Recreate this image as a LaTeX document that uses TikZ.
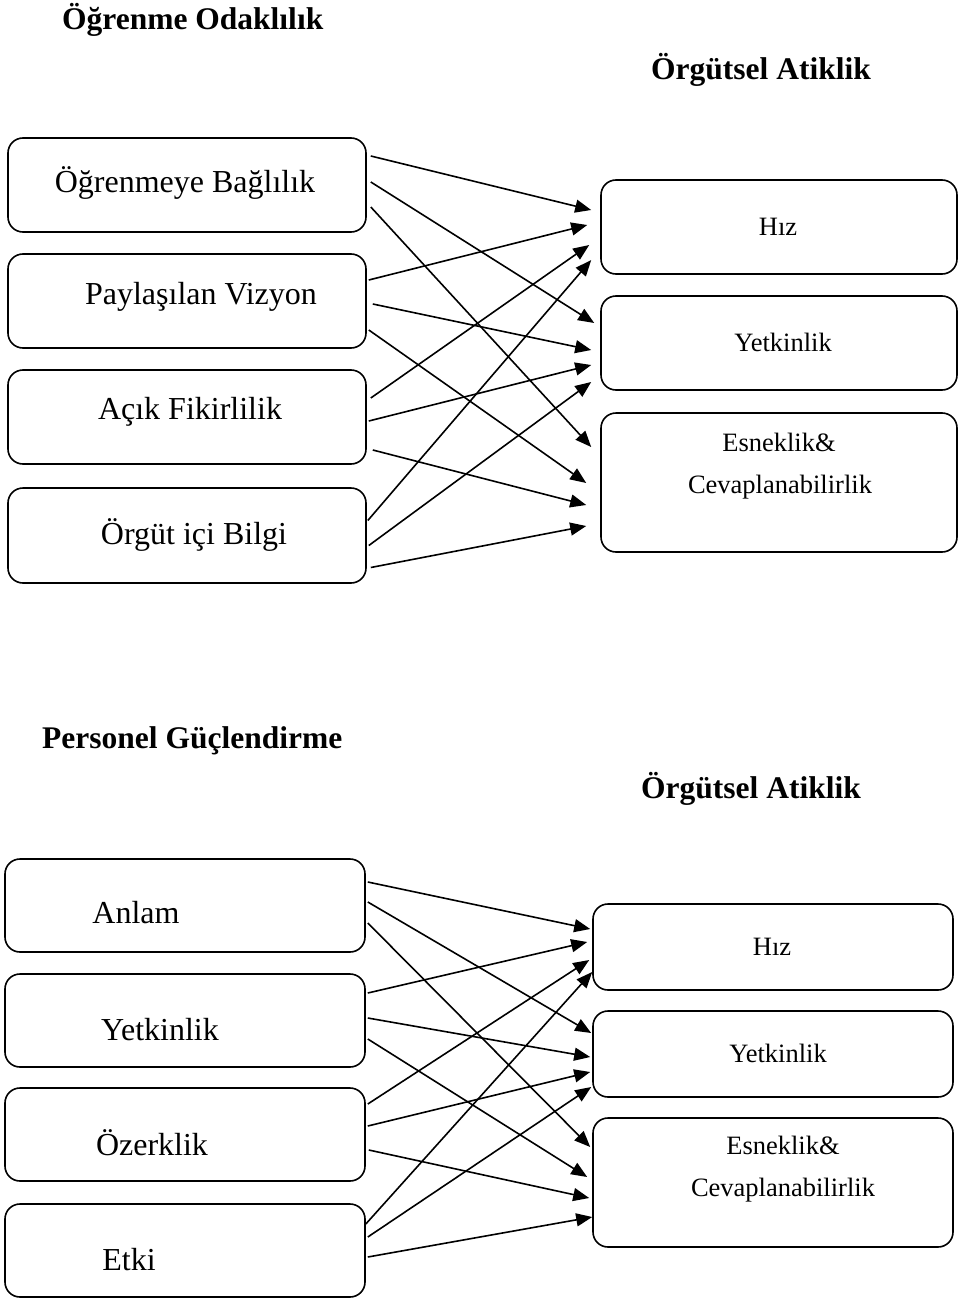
\documentclass[tikz,border=0pt]{standalone}
\usepackage{fontspec}
\setmainfont{Liberation Serif}
\usetikzlibrary{arrows.meta,calc}
\begin{document}
\begin{tikzpicture}[x=1pt,y=-1pt,
 box/.style={draw, line width=1.6pt, rounded corners=15pt, inner sep=0pt, minimum width=358pt, minimum height=94pt},
 rbox/.style={box, minimum width=356pt},
 bbox/.style={box, minimum width=360pt, minimum height=93pt},
 cbox/.style={box, minimum width=360pt, minimum height=86pt},
 arr/.style={line width=1.6pt, -{Triangle[length=16pt,width=13pt]}},
 txt/.style={font=\fontsize{32}{38}\selectfont, inner sep=0pt},
 rtxt/.style={font=\fontsize{26.5}{32}\selectfont, inner sep=0pt},
 head/.style={font=\fontsize{31.5}{37}\selectfont\bfseries, inner sep=0pt, anchor=west}]
\useasboundingbox (0,0) rectangle (958,1300);

% ---------- top section ----------
\node[head] (h1) at (62,20) {Öğrenme Odaklılık};
\node[head] (h2) at (651,70) {Örgütsel Atiklik};

\node[box] (L1) at (187,185) {};
\node[box] (L2) at (187,301) {};
\node[box] (L3) at (187,417) {};
\node[box, minimum height=95pt] (L4) at (187,535.5) {};
\node[txt] (t1) at (185,183) {Öğrenmeye Bağlılık};
\node[txt] (t2) at (201,297) {Paylaşılan Vizyon};
\node[txt] (t3) at (190,412) {Açık Fikirlilik};
\node[txt] (t4) at (194,535) {Örgüt içi Bilgi};

\node[rbox] (R1) at (779,227) {};
\node[rbox] (R2) at (779,343) {};
\node[rbox, minimum height=139pt] (R3) at (779,482.5) {};
\node[rtxt] (r1) at (778,227) {Hız};
\node[rtxt] (r2) at (783,342) {Yetkinlik};
\node[rtxt] (r3a) at (779,442) {Esneklik\&};
\node[rtxt] (r3b) at (780,487) {Cevaplanabilirlik};

\draw[arr] ($(L1.east)+(4,-29)$) -- ($(R1.west)+(-9,-17)$);
\draw[arr] ($(L1.east)+(4,-3)$) -- ($(R2.west)+(-6,-20)$);
\draw[arr] ($(L1.east)+(4,22)$) -- ($(R3.west)+(-9,-35.5)$);
\draw[arr] ($(L2.east)+(2,-21)$) -- ($(R1.west)+(-13,-2)$);
\draw[arr] ($(L2.east)+(6,3)$) -- ($(R2.west)+(-9,7)$);
\draw[arr] ($(L2.east)+(2,29)$) -- ($(R3.west)+(-14,0.5)$);
\draw[arr] ($(L3.east)+(4,-19)$) -- ($(R1.west)+(-11,18)$);
\draw[arr] ($(L3.east)+(2,4)$) -- ($(R2.west)+(-9,22)$);
\draw[arr] ($(L3.east)+(6,33)$) -- ($(R3.west)+(-14,22.5)$);
\draw[arr] ($(L4.east)+(1,-15)$) -- ($(R1.west)+(-9,33)$);
\draw[arr] ($(L4.east)+(2,10)$) -- ($(R2.west)+(-9,39)$);
\draw[arr] ($(L4.east)+(4,32)$) -- ($(R3.west)+(-14,43.5)$);

% ---------- bottom section ----------
\node[head] (h3) at (42,741) {Personel Güçlendirme};
\node[head] (h4) at (641,789) {Örgütsel Atiklik};

\node[bbox] (B1) at (185,905.5) {};
\node[bbox] (B2) at (185,1020.5) {};
\node[bbox] (B3) at (185,1134.5) {};
\node[bbox] (B4) at (185,1250.5) {};
\node[txt] (u1) at (136,913) {Anlam};
\node[txt] (u2) at (160,1030) {Yetkinlik};
\node[txt] (u3) at (152,1143) {Özerklik};
\node[txt] (u4) at (129,1260) {Etki};

\node[cbox] (C1) at (773,947) {};
\node[cbox] (C2) at (773,1054) {};
\node[cbox, minimum height=129pt] (C3) at (773,1182.5) {};
\node[rtxt] (c1) at (772,947) {Hız};
\node[rtxt] (c2) at (778,1053) {Yetkinlik};
\node[rtxt] (c3a) at (783,1145) {Esneklik\&};
\node[rtxt] (c3b) at (783,1190) {Cevaplanabilirlik};

\draw[arr] ($(B1.east)+(2,-23.5)$) -- ($(C1.west)+(-2,-18)$);
\draw[arr] ($(B1.east)+(2,-3.5)$) -- ($(C2.west)+(-1,-21)$);
\draw[arr] ($(B1.east)+(2,17.5)$) -- ($(C3.west)+(-2,-35.5)$);
\draw[arr] ($(B2.east)+(2,-27.5)$) -- ($(C1.west)+(-5,-5)$);
\draw[arr] ($(B2.east)+(2,-2.5)$) -- ($(C2.west)+(-2,3)$);
\draw[arr] ($(B2.east)+(2,18.5)$) -- ($(C3.west)+(-5,-5.5)$);
\draw[arr] ($(B3.east)+(2,-30.5)$) -- ($(C1.west)+(-3,13)$);
\draw[arr] ($(B3.east)+(2,-8.5)$) -- ($(C2.west)+(-2,18)$);
\draw[arr] ($(B3.east)+(3,15.5)$) -- ($(C3.west)+(-3,15.5)$);
\draw[arr] ($(B4.east)+(0,-26.5)$) -- ($(C1.west)+(0,25)$);
\draw[arr] ($(B4.east)+(2,-13.5)$) -- ($(C2.west)+(-1,33)$);
\draw[arr] ($(B4.east)+(2,6.5)$) -- ($(C3.west)+(0,34.5)$);
\end{tikzpicture}
\end{document}
